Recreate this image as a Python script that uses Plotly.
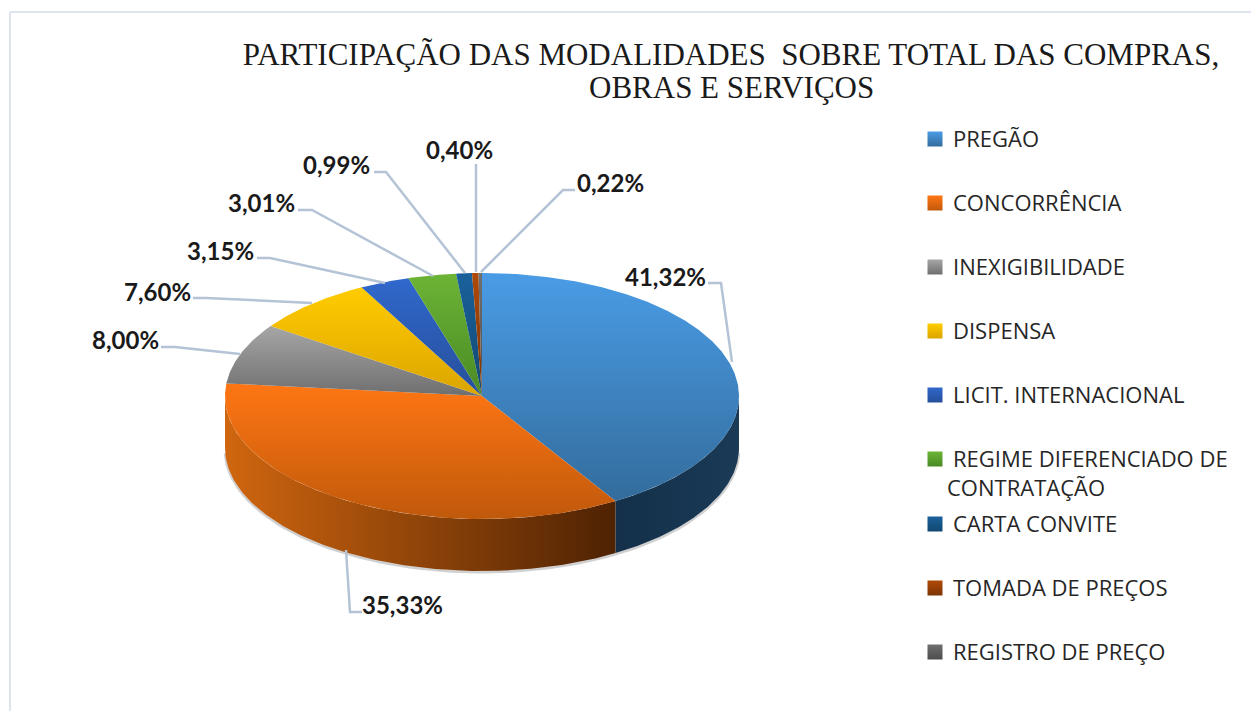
import numpy as np
import plotly.graph_objects as go

# ---- data ----
categories = ["PREGÃO", "CONCORRÊNCIA", "INEXIGIBILIDADE", "DISPENSA", "LICIT. INTERNACIONAL",
              "REGIME DIFERENCIADO DE CONTRATAÇÃO", "CARTA CONVITE", "TOMADA DE PREÇOS", "REGISTRO DE PREÇO"]
values = [41.32, 35.33, 8.00, 7.60, 3.15, 3.01, 0.99, 0.40, 0.22]
value_labels = ["41,32%", "35,33%", "8,00%", "7,60%", "3,15%", "3,01%", "0,99%", "0,40%", "0,22%"]
title_line1 = "PARTICIPAÇÃO DAS MODALIDADES  SOBRE TOTAL DAS COMPRAS,"
title_line2 = "OBRAS E SERVIÇOS"

# top-surface light/dark colours per slice
top_light = ["#4a9ce6", "#ff7614", "#a6a6a6", "#ffcc00", "#3068cc", "#6cb435", "#1a619c", "#b04a08", "#707070"]
top_dark = ["#336c9c", "#c0590b", "#6f6f6f", "#dba400", "#264f9a", "#4a8a25", "#124870", "#7c3404", "#4c4c4c"]
wall_left = ["#14304a", "#d0660f"]
wall_right = ["#1a3a56", "#4e2203"]

# ---- layout of the drawing (pixels of the page) ----
CX, CY, RX, RY, DEPTH = 482, 396, 257, 123, 52
LEG_X, LEG_TXT_X = 935, 951
legend_swatch_y = [139, 203, 267, 331, 395, 459, 524, 588, 652]
legend_text_y = [138, 202, 266, 330, 394, 458, 523, 587, 651]
# label centre (x, y) and leader-line path per slice
label_xy = [(665, 276), (402, 604), (125, 339), (157, 291), (220, 250), (261, 202), (336, 164), (459, 149), (610, 182)]
leaders = [
    [(708, 283), (721, 283), (732, 362)],
    [(346, 550), (350, 612), (362, 612)],
    [(161, 347), (175, 347), (240, 354)],
    [(193, 298), (206, 298), (312, 303)],
    [(257, 258), (270, 258), (385, 283)],
    [(298, 210), (312, 210), (433, 276)],
    [(374, 172), (386, 172), (465, 273)],
    [(476, 164), (476, 272)],
    [(575, 190), (563, 190), (481, 272)],
]


def rim(a0, a1, n=120, dy=0):
    t = np.radians(np.linspace(a0, a1, n))
    return CX + RX * np.sin(t), CY - RY * np.cos(t) + dy


fig = go.Figure()
angles = np.concatenate([[0], np.cumsum(values) / sum(values) * 360])

# soft shadow below the disc
sx, sy = rim(92, 268, dy=DEPTH + 1)
fig.add_trace(go.Scatter(x=sx, y=sy, mode="lines", line=dict(color="rgba(120,120,120,0.35)", width=3),
                         hoverinfo="skip", showlegend=False))

# side walls (front half only)
for i in range(2):
    a0, a1 = max(angles[i], 90), min(angles[i + 1], 270)
    x0, y0 = rim(a0, a1)
    xs = np.concatenate([x0, x0[::-1]])
    ys = np.concatenate([y0, y0[::-1] + DEPTH])
    fig.add_trace(go.Scatter(
        x=xs, y=ys, mode="lines", fill="toself", line=dict(width=0),
        fillgradient=dict(type="horizontal", start=float(x0.min()), stop=float(x0.max()),
                          colorscale=[[0, wall_left[i]], [1, wall_right[i]]]),
        hoverinfo="skip", showlegend=False))

# top surface
for i, name in enumerate(categories):
    x0, y0 = rim(angles[i], angles[i + 1], n=max(8, int(values[i] * 8)))
    xs = np.concatenate([[CX], x0, [CX]])
    ys = np.concatenate([[CY], y0, [CY]])
    fig.add_trace(go.Scatter(
        x=xs, y=ys, mode="lines", fill="toself", line=dict(width=0), name=name,
        fillgradient=dict(type="vertical", start=float(ys.min()), stop=float(ys.max()),
                          colorscale=[[0, top_light[i]], [1, top_dark[i]]]),
        text=f"{name}: {value_labels[i]}", hoverinfo="text", showlegend=False))

# leader lines
for path in leaders:
    fig.add_trace(go.Scatter(x=[p[0] for p in path], y=[p[1] for p in path], mode="lines",
                             line=dict(color="#b4c3d6", width=2.5), hoverinfo="skip", showlegend=False))

# value labels
for txt, (lx, ly) in zip(value_labels, label_xy):
    fig.add_annotation(x=lx, y=ly, text=f"<b>{txt}</b>", showarrow=False,
                       font=dict(family="Lato", size=24, color="#1a1a1a"))

# legend (swatch + text)
fig.add_trace(go.Scatter(
    x=[LEG_X] * len(categories), y=legend_swatch_y, mode="markers", hoverinfo="skip", showlegend=False,
    marker=dict(symbol="square", size=15, color=top_light, line=dict(width=0),
                gradient=dict(type="vertical", color=top_dark))))
LEG_FONT = dict(family="Open Sans", size=22, color="#262626")
for name, ly in zip(categories, legend_text_y):
    if name.startswith("REGIME"):
        fig.add_annotation(x=LEG_TXT_X, y=ly, text="REGIME DIFERENCIADO DE", showarrow=False, xanchor="left", font=LEG_FONT)
        fig.add_annotation(x=LEG_TXT_X - 6, y=ly + 29, text="CONTRATAÇÃO", showarrow=False, xanchor="left", font=LEG_FONT)
    else:
        fig.add_annotation(x=LEG_TXT_X, y=ly, text=name, showarrow=False, xanchor="left", font=LEG_FONT)

TITLE_FONT = dict(family="Liberation Serif", size=31, color="#1a1a1a")
fig.add_annotation(x=731, y=87, text=title_line2, showarrow=False, font=TITLE_FONT)

fig.update_layout(
    width=1251, height=711, margin=dict(l=0, r=0, t=0, b=0),
    paper_bgcolor="white", plot_bgcolor="white", showlegend=False,
    title=dict(text=title_line1, x=731 / 1251, xanchor="center", y=1 - 54 / 711, yanchor="middle", font=TITLE_FONT),
    xaxis=dict(range=[0, 1251], visible=False, fixedrange=True),
    yaxis=dict(range=[711, 0], visible=False, fixedrange=True),
    shapes=[
        dict(type="line", x0=10, x1=1251, y0=12, y1=12, line=dict(color="#dfe5ee", width=2)),
        dict(type="line", x0=10, x1=10, y0=12, y1=711, line=dict(color="#dfe5ee", width=2)),
    ],
)

fig.write_html("out.html", config=dict(displayModeBar=False),
               post_script="document.body.style.margin='0';document.body.style.overflow='hidden';")
